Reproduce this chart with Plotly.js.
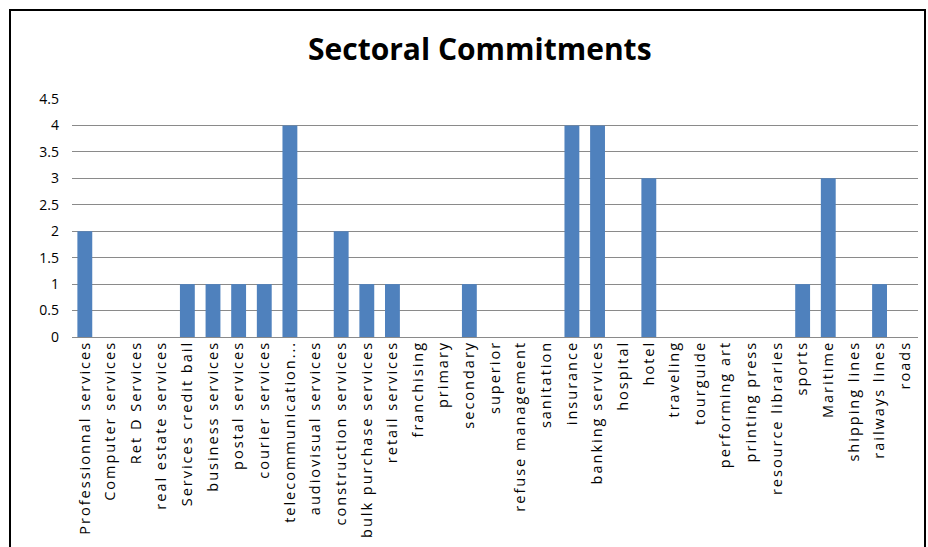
<!DOCTYPE html>
<html>
<head>
<meta charset="utf-8">
<script src="https://cdn.plot.ly/plotly-3.0.1.min.js"></script>
<style>
html,body{margin:0;padding:0;background:#fff;}
#wrap{position:relative;width:928px;height:547px;overflow:hidden;}
#chart{width:928px;height:547px;}
#frame{position:absolute;left:9px;top:9px;width:917px;height:560px;border:2px solid #000;pointer-events:none;box-sizing:border-box;}
#chart .xtick text{letter-spacing:2px;}
</style>
</head>
<body>
<div id="wrap"><div id="chart"></div><div id="frame"></div></div>
<script>
const categories = [
  "Professionnal services","Computer services","Ret D Services","real estate services",
  "Services credit bail","business services","postal services","courier services",
  "telecommunication...","audiovisual services","construction services","bulk purchase services",
  "retail services","franchising","primary","secondary","superior","refuse management",
  "sanitation","insurance","banking services","hospital","hotel","traveling","tourguide",
  "performing art","printing press","resource libraries","sports","Maritime",
  "shipping lines","railways lines","roads"
];
const commitments = [2,0,0,0,1,1,1,1,4,0,2,1,1,0,0,1,0,0,0,4,4,0,3,0,0,0,0,0,1,3,0,1,0];
const yTicks = [0,0.5,1,1.5,2,2.5,3,3.5,4,4.5];
const yTickLabels = ["0","0.5","1","1.5","2","2.5","3","3.5","4","4.5"];

Plotly.newPlot('chart', [{
  type: 'bar',
  x: categories,
  y: commitments,
  marker: {color: '#4F81BD'},
  hoverinfo: 'x+y'
}], {
  width: 928, height: 547,
  margin: {l: 72, r: 10, t: 99, b: 210},
  paper_bgcolor: '#fff', plot_bgcolor: '#fff',
  bargap: 0.42,
  title: {text: '<b>Sectoral Commitments</b>', x: 0.517, xanchor: 'center', y: 0.91, yanchor: 'middle',
          font: {family: 'Open Sans, Noto Sans, sans-serif', size: 30, color: '#000'}},
  xaxis: {
    type: 'category', tickangle: -90, showgrid: false, showline: false, ticks: '',
    tickfont: {family: 'Open Sans, Noto Sans, sans-serif', size: 14.5, color: '#000'},
    automargin: false
  },
  yaxis: {
    range: [0, 4.5], tickvals: yTicks, ticktext: yTickLabels,
    showgrid: true, gridcolor: '#8a8a8a', gridwidth: 1,
    zeroline: true, zerolinecolor: '#8a8a8a', zerolinewidth: 1,
    showline: false, ticks: '', ticklabelstandoff: 12,
    tickfont: {family: 'Open Sans, Noto Sans, sans-serif', size: 14, color: '#000'},
    automargin: false
  },
  showlegend: false
}, {displayModeBar: false, staticPlot: true});
</script>
</body>
</html>
